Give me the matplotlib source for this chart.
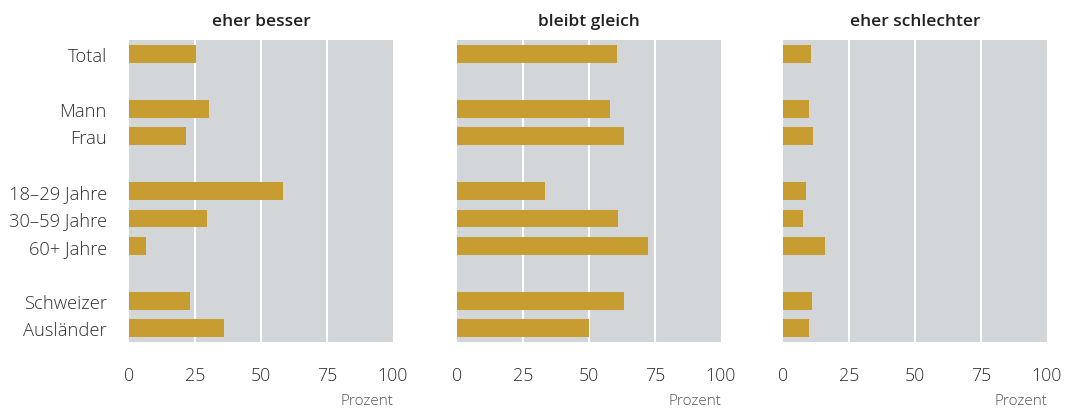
import matplotlib
matplotlib.use("Agg")
import matplotlib.pyplot as plt

plt.rcParams['font.family'] = ['Open Sans', 'DejaVu Sans']

categories = ["Total", "Mann", "Frau", "18–29 Jahre", "30–59 Jahre", "60+ Jahre", "Schweizer", "Ausländer"]
positions = [0, 2, 3, 5, 6, 7, 9, 10]
panel_titles = ["eher besser", "bleibt gleich", "eher schlechter"]
eher_besser = [25.4, 30.4, 21.5, 58.2, 29.7, 6.5, 23.2, 36.1]
bleibt_gleich = [60.5, 58.0, 63.3, 33.3, 61.0, 72.3, 63.3, 50.0]
eher_schlechter = [10.6, 9.9, 11.4, 8.7, 7.6, 15.9, 11.0, 9.9]
x_ticks = [0, 25, 50, 75, 100]
x_label = "Prozent"

series = [eher_besser, bleibt_gleich, eher_schlechter]

bg = "#d3d6d9"
bar_color = "#c79d31"
text_color = "#2e2e2e"

fig = plt.figure(figsize=(10.78, 4.10), dpi=100)
lefts = [129/1078, 457/1078, 783/1078]
width = 264/1078
bottom = 1 - 343/410
height = (343 - 41)/410

for i, (title, vals) in enumerate(zip(panel_titles, series)):
    ax = fig.add_axes([lefts[i], bottom, width, height])
    ax.set_facecolor(bg)
    for s in ax.spines.values():
        s.set_visible(False)
    ax.barh(positions, vals, height=0.65, color=bar_color, zorder=3)
    ax.set_xlim(0, 100)
    ax.set_ylim(10.5, -0.5)
    ax.set_xticks(x_ticks)
    ax.set_xticklabels([str(t) for t in x_ticks], fontweight='light')
    for gx in x_ticks[1:-1]:
        ax.axvline(gx, color="white", lw=1.5, zorder=1)
    ax.tick_params(axis='x', length=0, pad=17, labelsize=12.8, colors=text_color)
    if i == 0:
        ax.set_yticks(positions)
        ax.set_yticklabels(categories, fontweight='light')
        ax.tick_params(axis='y', length=0, pad=16, labelsize=13.2, colors=text_color)
    else:
        ax.set_yticks([])
    ax.set_title(title, fontsize=12.5, fontweight='semibold', color="#222222", pad=11)
    ax.text(1.0, -0.195, x_label, transform=ax.transAxes, ha='right', va='center',
            fontsize=11, fontweight='light', color="#555555")

fig.savefig("out.png", dpi=100)
